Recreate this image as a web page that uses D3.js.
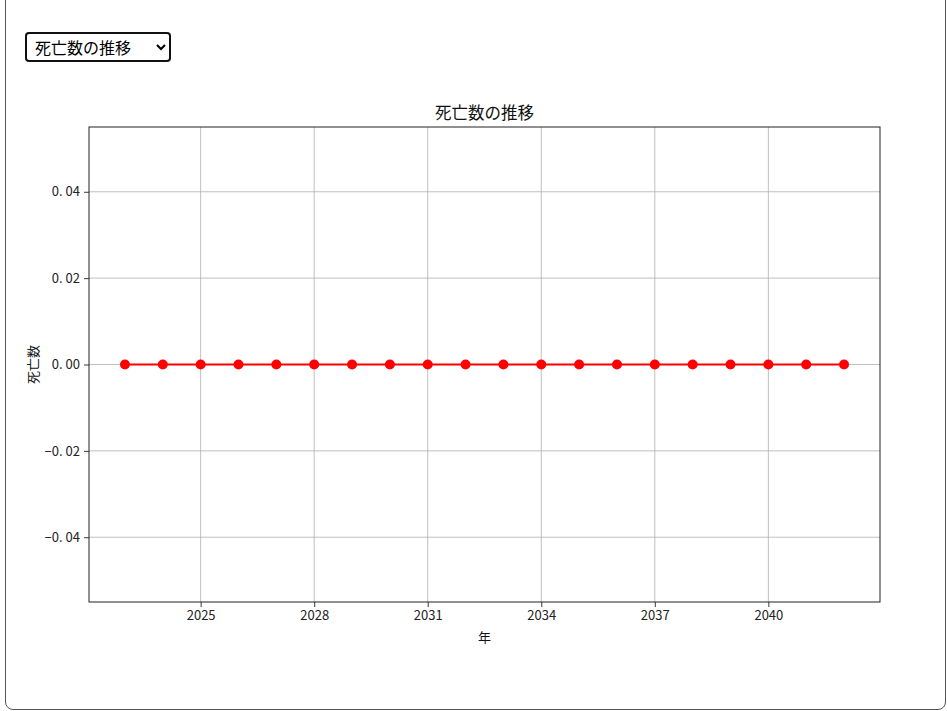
<!DOCTYPE html>
<html><head><meta charset="utf-8">
<script src="https://cdn.jsdelivr.net/npm/d3@7"></script>
<style>
html,body{margin:0;padding:0;background:#fff;overflow:hidden;}
#frame{position:absolute;left:5px;top:-12px;width:941px;height:722px;border:1px solid #555;border-radius:8px;box-sizing:border-box;}
#sel{position:absolute;left:25px;top:32px;width:146px;height:30px;font-family:"Noto Sans CJK JP",sans-serif;font-size:16px;border:2px solid #111;border-radius:4px;background:#fff;padding:0 4px;box-sizing:border-box;}
svg{position:absolute;left:0;top:0;}
</style></head>
<body>
<div id="frame"></div>
<select id="sel"><option>死亡数の推移</option></select>
<svg id="chart" width="947" height="711"></svg>
<script>
const years = [2023,2024,2025,2026,2027,2028,2029,2030,2031,2032,2033,2034,2035,2036,2037,2038,2039,2040,2041,2042];
const deaths = [0,0,0,0,0,0,0,0,0,0,0,0,0,0,0,0,0,0,0,0];
const xTicks = [2025,2028,2031,2034,2037,2040];
const yTicks = [-0.04,-0.02,0,0.02,0.04];
const title = "死亡数の推移";
const xLabel = "年";
const yLabel = "死亡数";

const font = "'Noto Sans CJK JP', sans-serif";
const L = 89, R = 880, T = 127, B = 602;
const svg = d3.select("#chart");
const x = d3.scaleLinear().domain([2022.05, 2042.95]).range([L, R]);
const y = d3.scaleLinear().domain([-0.055, 0.055]).range([B, T]);

// grid
svg.append("g").selectAll("line").data(xTicks).join("line")
  .attr("x1", d => x(d)).attr("x2", d => x(d)).attr("y1", T).attr("y2", B)
  .attr("stroke", "#b0b0b0").attr("stroke-width", 0.8);
svg.append("g").selectAll("line").data(yTicks).join("line")
  .attr("y1", d => y(d)).attr("y2", d => y(d)).attr("x1", L).attr("x2", R)
  .attr("stroke", "#b0b0b0").attr("stroke-width", 0.8);

// axes
const fmt = d => (d < 0 ? "\u2212" : "") + d3.format(".2f")(Math.abs(d)).replace(".", ". ");
const xAxis = svg.append("g").attr("transform", `translate(0,${B})`)
  .call(d3.axisBottom(x).tickValues(xTicks).tickFormat(d3.format("d")).tickSize(5).tickPadding(4));
const yAxis = svg.append("g").attr("transform", `translate(${L},0)`)
  .call(d3.axisLeft(y).tickValues(yTicks).tickFormat(fmt).tickSize(5).tickPadding(4));
[xAxis, yAxis].forEach(a => {
  a.select(".domain").remove();
  a.selectAll("text").attr("font-family", font).attr("font-size", 13).attr("fill", "#222");
  a.selectAll("line").attr("stroke", "#222").attr("stroke-width", 0.9);
});

// frame
svg.append("rect").attr("x", L).attr("y", T).attr("width", R - L).attr("height", B - T)
  .attr("fill", "none").attr("stroke", "#222").attr("stroke-width", 1);

// line and points
const pts = years.map((d, i) => [d, deaths[i]]);
svg.append("path").datum(pts)
  .attr("d", d3.line().x(d => x(d[0])).y(d => y(d[1])))
  .attr("fill", "none").attr("stroke", "#ff0000").attr("stroke-width", 2);
svg.append("g").selectAll("circle").data(pts).join("circle")
  .attr("cx", d => x(d[0])).attr("cy", d => y(d[1])).attr("r", 5).attr("fill", "#ff0000");

// texts
svg.append("text").attr("x", (L + R) / 2).attr("y", 119).attr("text-anchor", "middle")
  .attr("font-family", font).attr("font-size", 16.5).attr("fill", "#111").text(title);
svg.append("text").attr("x", (L + R) / 2).attr("y", 642).attr("text-anchor", "middle")
  .attr("font-family", font).attr("font-size", 13).attr("fill", "#111").text(xLabel);
svg.append("text").attr("transform", `translate(38,${(T + B) / 2}) rotate(-90)`).attr("text-anchor", "middle")
  .attr("font-family", font).attr("font-size", 13).attr("fill", "#111").text(yLabel);
</script>
</body></html>
